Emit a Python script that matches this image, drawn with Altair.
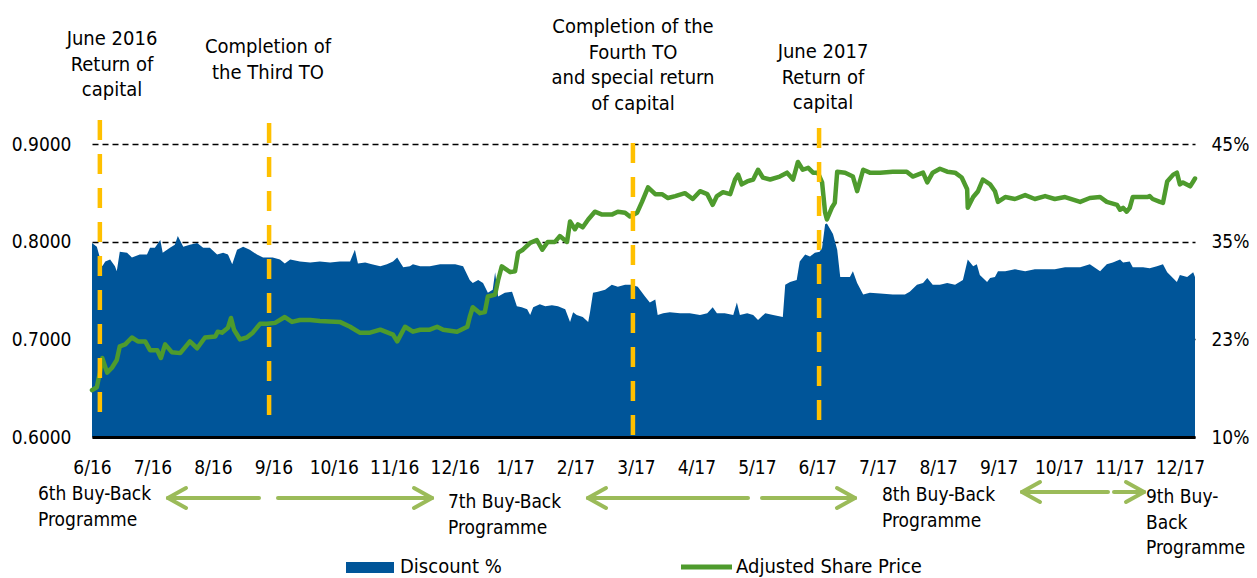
import json
import altair as alt
import pandas as pd

# ---------------- data ----------------
month_labels = ["6/16", "7/16", "8/16", "9/16", "10/16", "11/16", "12/16", "1/17", "2/17",
                "3/17", "4/17", "5/17", "6/17", "7/17", "8/17", "9/17", "10/17", "11/17", "12/17"]

# Adjusted share price (left axis), x = months since 6/16
price_month = [0.00, 0.08, 0.13, 0.17, 0.25, 0.33, 0.41, 0.46, 0.55, 0.66,
               0.76, 0.88, 0.96, 1.08, 1.14, 1.21, 1.32, 1.46, 1.62, 1.74,
               1.87, 2.04, 2.08, 2.15, 2.25, 2.30, 2.35, 2.45, 2.56, 2.66,
               2.78, 2.90, 3.03, 3.19, 3.31, 3.44, 3.61, 3.77, 4.10, 4.27,
               4.43, 4.60, 4.77, 4.98, 5.05, 5.18, 5.31, 5.43, 5.59, 5.71,
               5.81, 6.04, 6.21, 6.25, 6.30, 6.42, 6.50, 6.55, 6.67, 6.72,
               6.78, 6.92, 7.00, 7.05, 7.13, 7.25, 7.36, 7.45, 7.54, 7.66,
               7.74, 7.86, 7.91, 7.99, 8.04, 8.12, 8.21, 8.32, 8.44, 8.60,
               8.70, 8.82, 8.90, 9.02, 9.10, 9.20, 9.32, 9.43, 9.53, 9.65,
               9.81, 9.94, 10.06, 10.18, 10.27, 10.34, 10.44, 10.56, 10.64, 10.69,
               10.75, 10.84, 10.94, 11.02, 11.10, 11.22, 11.38, 11.50, 11.60, 11.68,
               11.76, 11.85, 11.93, 12.01, 12.08, 12.13, 12.16, 12.24, 12.29, 12.33,
               12.46, 12.59, 12.66, 12.76, 12.87, 13.04, 13.25, 13.48, 13.58, 13.75,
               13.82, 13.91, 14.03, 14.15, 14.28, 14.39, 14.48, 14.49, 14.58, 14.66,
               14.74, 14.86, 14.94, 14.99, 15.11, 15.27, 15.44, 15.60, 15.77, 15.93,
               16.10, 16.35, 16.51, 16.68, 16.79, 16.96, 17.01, 17.06, 17.12, 17.17,
               17.22, 17.34, 17.46, 17.50, 17.55, 17.67, 17.72, 17.79, 17.89, 17.95,
               18.00, 18.05, 18.17, 18.22, 18.25]
price_value = [0.648, 0.651, 0.666, 0.681, 0.666, 0.671, 0.679, 0.693, 0.695, 0.702,
               0.698, 0.698, 0.689, 0.689, 0.681, 0.695, 0.687, 0.686, 0.698, 0.691,
               0.702, 0.703, 0.708, 0.707, 0.712, 0.722, 0.710, 0.700, 0.702, 0.707,
               0.716, 0.716, 0.717, 0.723, 0.718, 0.720, 0.720, 0.719, 0.718, 0.713,
               0.707, 0.707, 0.710, 0.705, 0.698, 0.713, 0.708, 0.710, 0.710, 0.713,
               0.710, 0.708, 0.713, 0.723, 0.733, 0.727, 0.728, 0.744, 0.746, 0.761,
               0.775, 0.769, 0.770, 0.789, 0.792, 0.799, 0.802, 0.792, 0.800, 0.800,
               0.806, 0.800, 0.821, 0.813, 0.818, 0.815, 0.823, 0.831, 0.828, 0.828,
               0.831, 0.830, 0.826, 0.830, 0.841, 0.856, 0.849, 0.849, 0.845, 0.847,
               0.850, 0.844, 0.852, 0.849, 0.838, 0.847, 0.851, 0.849, 0.864, 0.869,
               0.859, 0.862, 0.864, 0.874, 0.866, 0.864, 0.867, 0.871, 0.864, 0.882,
               0.874, 0.876, 0.871, 0.871, 0.861, 0.830, 0.823, 0.835, 0.840, 0.872,
               0.871, 0.867, 0.852, 0.874, 0.871, 0.871, 0.872, 0.872, 0.867, 0.871,
               0.861, 0.871, 0.875, 0.872, 0.871, 0.866, 0.854, 0.835, 0.846, 0.852,
               0.864, 0.859, 0.852, 0.841, 0.846, 0.844, 0.848, 0.844, 0.847, 0.844,
               0.846, 0.841, 0.845, 0.846, 0.841, 0.838, 0.833, 0.835, 0.831, 0.835,
               0.846, 0.846, 0.846, 0.847, 0.844, 0.841, 0.840, 0.862, 0.869, 0.871,
               0.859, 0.861, 0.857, 0.862, 0.865]

# Discount (right axis), expressed on the shared 0.6-0.9 scale
disc_month = [0.00, 0.08, 0.17, 0.22, 0.30, 0.38, 0.41, 0.46, 0.58, 0.66,
              0.79, 0.91, 0.96, 1.04, 1.13, 1.17, 1.29, 1.37, 1.42, 1.51,
              1.62, 1.74, 1.84, 1.95, 2.07, 2.17, 2.25, 2.32, 2.40, 2.50,
              2.61, 2.73, 2.83, 2.99, 3.11, 3.19, 3.28, 3.44, 3.61, 3.77,
              3.94, 4.10, 4.27, 4.35, 4.40, 4.52, 4.63, 4.77, 4.88, 4.98,
              5.05, 5.10, 5.15, 5.26, 5.31, 5.43, 5.59, 5.76, 5.87, 6.01,
              6.14, 6.25, 6.30, 6.39, 6.47, 6.55, 6.63, 6.67, 6.72, 6.83,
              6.95, 7.03, 7.11, 7.20, 7.25, 7.30, 7.41, 7.50, 7.61, 7.71,
              7.83, 7.91, 7.96, 8.02, 8.12, 8.21, 8.24, 8.29, 8.37, 8.49,
              8.60, 8.70, 8.82, 8.93, 9.03, 9.15, 9.23, 9.32, 9.36, 9.45,
              9.56, 9.73, 9.89, 10.06, 10.18, 10.27, 10.34, 10.47, 10.61, 10.67,
              10.72, 10.84, 10.94, 11.02, 11.14, 11.27, 11.43, 11.47, 11.55, 11.66,
              11.71, 11.80, 11.88, 11.96, 12.04, 12.08, 12.13, 12.16, 12.26, 12.33,
              12.38, 12.54, 12.59, 12.66, 12.76, 12.87, 13.04, 13.25, 13.45, 13.53,
              13.65, 13.75, 13.82, 13.91, 14.03, 14.15, 14.28, 14.41, 14.49, 14.58,
              14.64, 14.69, 14.81, 14.86, 14.94, 14.99, 15.11, 15.27, 15.44, 15.60,
              15.77, 15.93, 16.10, 16.35, 16.51, 16.68, 16.79, 16.89, 17.01, 17.06,
              17.17, 17.22, 17.39, 17.50, 17.62, 17.72, 17.79, 17.95, 18.00, 18.12,
              18.22, 18.25]
disc_value = [0.799, 0.795, 0.775, 0.780, 0.782, 0.775, 0.770, 0.790, 0.789, 0.784,
              0.787, 0.787, 0.794, 0.794, 0.802, 0.789, 0.794, 0.797, 0.806, 0.795,
              0.797, 0.799, 0.794, 0.794, 0.787, 0.789, 0.787, 0.777, 0.792, 0.795,
              0.792, 0.787, 0.784, 0.784, 0.782, 0.778, 0.782, 0.780, 0.779, 0.780,
              0.779, 0.780, 0.780, 0.792, 0.778, 0.779, 0.777, 0.775, 0.777, 0.780,
              0.784, 0.779, 0.774, 0.775, 0.777, 0.775, 0.775, 0.777, 0.777, 0.777,
              0.775, 0.761, 0.758, 0.761, 0.758, 0.748, 0.751, 0.769, 0.744, 0.748,
              0.749, 0.734, 0.733, 0.731, 0.725, 0.733, 0.736, 0.734, 0.735, 0.734,
              0.731, 0.718, 0.728, 0.725, 0.723, 0.718, 0.728, 0.748, 0.749, 0.751,
              0.756, 0.754, 0.756, 0.756, 0.754, 0.744, 0.738, 0.741, 0.725, 0.727,
              0.728, 0.727, 0.727, 0.725, 0.727, 0.733, 0.727, 0.727, 0.725, 0.738,
              0.725, 0.727, 0.725, 0.720, 0.727, 0.725, 0.723, 0.756, 0.759, 0.761,
              0.780, 0.787, 0.785, 0.789, 0.790, 0.794, 0.818, 0.819, 0.808, 0.792,
              0.764, 0.764, 0.770, 0.758, 0.746, 0.748, 0.747, 0.746, 0.746, 0.749,
              0.756, 0.758, 0.763, 0.756, 0.756, 0.758, 0.756, 0.761, 0.782, 0.775,
              0.777, 0.766, 0.759, 0.763, 0.764, 0.770, 0.770, 0.772, 0.770, 0.772,
              0.772, 0.772, 0.774, 0.774, 0.777, 0.770, 0.777, 0.779, 0.782, 0.779,
              0.780, 0.774, 0.774, 0.773, 0.775, 0.777, 0.769, 0.759, 0.766, 0.764,
              0.769, 0.764]

left_ticks = [0.6, 0.7, 0.8, 0.9]
right_tick_labels = ["10%", "23%", "35%", "45%"]

event_month = [0.13, 2.93, 8.95, 12.03]
event_text = [["June 2016", "Return of", "capital"],
              ["Completion of", "the Third TO"],
              ["Completion of the", "Fourth TO", "and special return", "of capital"],
              ["June 2017", "Return of", "capital"]]

programme_text = [["6th Buy-Back", "Programme"],
                  ["7th Buy-Back", "Programme"],
                  ["8th Buy-Back", "Programme"],
                  ["9th Buy-", "Back", "Programme"]]

series_names = ["Discount %", "Adjusted Share Price"]

# ---------------- style ----------------
FONT = "Liberation Sans Narrow, Arial Narrow, DejaVu Sans Condensed, sans-serif"
BLUE = "#005599"
GREEN = "#4E9B2D"
ORANGE = "#FFC000"
ARROW = "#9BBB59"
W, H = 1103, 317

price_df = pd.DataFrame({"month": price_month, "price": price_value})
disc_df = pd.DataFrame({"month": disc_month, "discount": disc_value})
one = pd.DataFrame({"k": [0]})

x_scale = alt.Scale(domain=[0, 18.25], nice=False, zero=False)
y_scale = alt.Scale(domain=[0.6, 0.925], nice=False, zero=False)

x_axis = alt.Axis(values=list(range(len(month_labels))),
                  labelExpr=json.dumps(month_labels) + "[round(datum.value)]",
                  title=None, grid=False, ticks=False, tickSize=0,
                  domainColor="black", domainWidth=3, labelPadding=21,
                  labelFont=FONT, labelFontSize=19, labelColor="black",
                  labelFlush=False, labelOverlap=False, zindex=2)

area = alt.Chart(disc_df).mark_area(color=BLUE, opacity=1, interpolate="linear").encode(
    x=alt.X("month:Q", scale=x_scale, axis=x_axis),
    y=alt.Y("discount:Q", scale=y_scale, title=None,
            axis=alt.Axis(orient="right", values=left_ticks,
                          labelExpr=json.dumps(right_tick_labels) + "[round((datum.value-0.6)*10)]",
                          grid=False, domain=False, ticks=False, tickSize=0, labelPadding=16,
                          labelFont=FONT, labelFontSize=19, labelColor="black")),
    y2=alt.datum(0.6),
)

line = alt.Chart(price_df).mark_line(color=GREEN, strokeWidth=4.5, strokeJoin="round",
                                      strokeCap="round").encode(
    x=alt.X("month:Q", scale=x_scale, axis=x_axis),
    y=alt.Y("price:Q", scale=y_scale, title=None,
            axis=alt.Axis(orient="left", values=left_ticks, format=".4f",
                          grid=True, gridColor="black", gridDash=[6, 4], gridWidth=1.3,
                          domain=False, ticks=False, tickSize=0, labelPadding=21,
                          labelFont=FONT, labelFontSize=19, labelColor="black")),
)

layers = [area, line]

# event lines (dashed orange)
rule_extent = [(0, 303), (3, 305), (23, 320), (8, 310)]
for m, (t, b) in zip(event_month, rule_extent):
    layers.append(alt.Chart(one).mark_rule(color=ORANGE, strokeWidth=4.5,
                                           strokeDash=[20, 14]).encode(
        x=alt.datum(m), y=alt.value(t), y2=alt.value(b)))

# event annotations
ann_pos = [(20, -75), (176, -67), (541, -87), (731, -62)]
for txt, (ax, ay) in zip(event_text, ann_pos):
    layers.append(alt.Chart(one).mark_text(font=FONT, fontSize=20, color="black",
                                           align="center", baseline="alphabetic",
                                           lineHeight=25.5).encode(
        x=alt.value(ax), y=alt.value(ay), text=alt.value(txt)))

# programme labels
prog_pos = [(-54, 380), (356, 388), (790, 381), (1054, 383)]
for txt, (px, py) in zip(programme_text, prog_pos):
    layers.append(alt.Chart(one).mark_text(font=FONT, fontSize=19, color="black",
                                           align="left", baseline="alphabetic",
                                           lineHeight=25.5).encode(
        x=alt.value(px), y=alt.value(py), text=alt.value(txt)))


def seg(x1, y1, x2, y2):
    return alt.Chart(one).mark_rule(color=ARROW, strokeWidth=4, strokeCap="round").encode(
        x=alt.value(x1), y=alt.value(y1), x2=alt.value(x2), y2=alt.value(y2))


def arrow(tail, tip, y):
    d = 18 if tip < tail else -18
    return [seg(tail, y, tip, y), seg(tip, y, tip + d, y - 10), seg(tip, y, tip + d, y + 10)]


for tail, tip, y in [(167, 76, 378), (186, 340, 378), (656, 496, 378), (670, 763, 378),
                     (1016, 930, 372), (1022, 1052, 372)]:
    layers += arrow(tail, tip, y)

# legend
layers.append(alt.Chart(one).mark_rect(color=BLUE).encode(
    x=alt.value(254), x2=alt.value(302), y=alt.value(442), y2=alt.value(453)))
layers.append(alt.Chart(one).mark_rule(color=GREEN, strokeWidth=5).encode(
    x=alt.value(589), x2=alt.value(640), y=alt.value(447), y2=alt.value(447)))
for name, lx in zip(series_names, [308, 644]):
    layers.append(alt.Chart(one).mark_text(font=FONT, fontSize=20, color="black",
                                           align="left", baseline="middle").encode(
        x=alt.value(lx), y=alt.value(447), text=alt.value(name)))

chart = alt.layer(*layers).resolve_scale(y="independent").properties(
    width=W, height=H,
    autosize=alt.AutoSizeParams(type="none"),
    padding={"left": 84, "top": 112, "right": 54, "bottom": 142},
    background="white",
).configure_view(stroke=None)

chart.save("out.html", embed_options={"renderer": "svg", "actions": False})
